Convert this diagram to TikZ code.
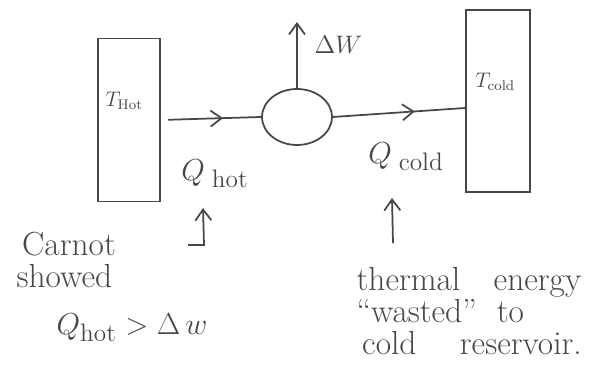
\documentclass[tikz,border=0pt]{standalone}
\usetikzlibrary{shapes.geometric,arrows.meta,decorations.markings}
\colorlet{pencil}{black!72}
\begin{document}
\begin{tikzpicture}[x=0.02cm,y=-0.02cm,>={Straight Barb[length=2.2mm,width=3.2mm]},line width=1pt,
		reservoir/.style={draw=pencil,rectangle,inner sep=0pt},
		hand/.style={text=pencil,font={\fontsize{19}{18}\selectfont},inner sep=1pt},
		flow/.style={draw=pencil,postaction={decorate},decoration={markings,mark=at position 0.62 with {\arrow{>}}}}]
			\useasboundingbox (0,0) rectangle (616,374);
			% reservoirs and engine
			\node[reservoir,minimum width=1.24cm,minimum height=3.26cm] (hot) at (129,120) {};
			\node[reservoir,minimum width=1.28cm,minimum height=3.64cm] (cold) at (498,101) {};
			\node[draw=pencil,ellipse,minimum width=1.4cm,minimum height=1.12cm,inner sep=0pt] (engine) at (297,117) {};
			\node[hand,font=\large,anchor=west] (thot) at (103,101) {$T_{\mathrm{Hot}}$};
			\node[hand,font=\large,anchor=west] (tcold) at (473,82) {$T_{\mathrm{cold}}$};
			% heat flows
			\draw[flow,shorten <=0.14cm] (hot.east) -- (engine.west);
			\draw[flow] (engine.east) -- ([yshift=-0.14cm]cold.west);
			\coordinate (work) at (297,22);
			\draw[->,pencil] (engine.north) -- (work);
			\node[hand,font=\Large,anchor=west] (dw) at (312,45) {$\Delta W$};
			\node[hand] (qhot) at (215,174) {$Q_{\;\mathrm{hot}}$};
			\node[hand] (qcold) at (406,157) {$Q_{\;\mathrm{cold}}$};
			% notes
			\coordinate (hookfoot) at (188,245);
			\coordinate (hookbase) at (204,245);
			\coordinate (hooktip) at (203,208);
			\draw[->,pencil] (hookfoot) -- (hookbase) -- (hooktip);
			\coordinate (wastebase) at (393,243);
			\coordinate (wastetip) at (392,198);
			\draw[->,pencil] (wastebase) -- (wastetip);
			\node[hand,align=left,anchor=north west] (carnot) at (14,230) {\,Carnot\\showed};
			\node[hand] (ineq) at (132,328) {$Q_{\mathrm{hot}} > \Delta\, w$};
			\node[hand,align=left,anchor=north west] (waste) at (354,265) {thermal\quad energy\\``wasted'' \ to\\ \,cold \quad reservoir.};
			\end{tikzpicture}
\end{document}
